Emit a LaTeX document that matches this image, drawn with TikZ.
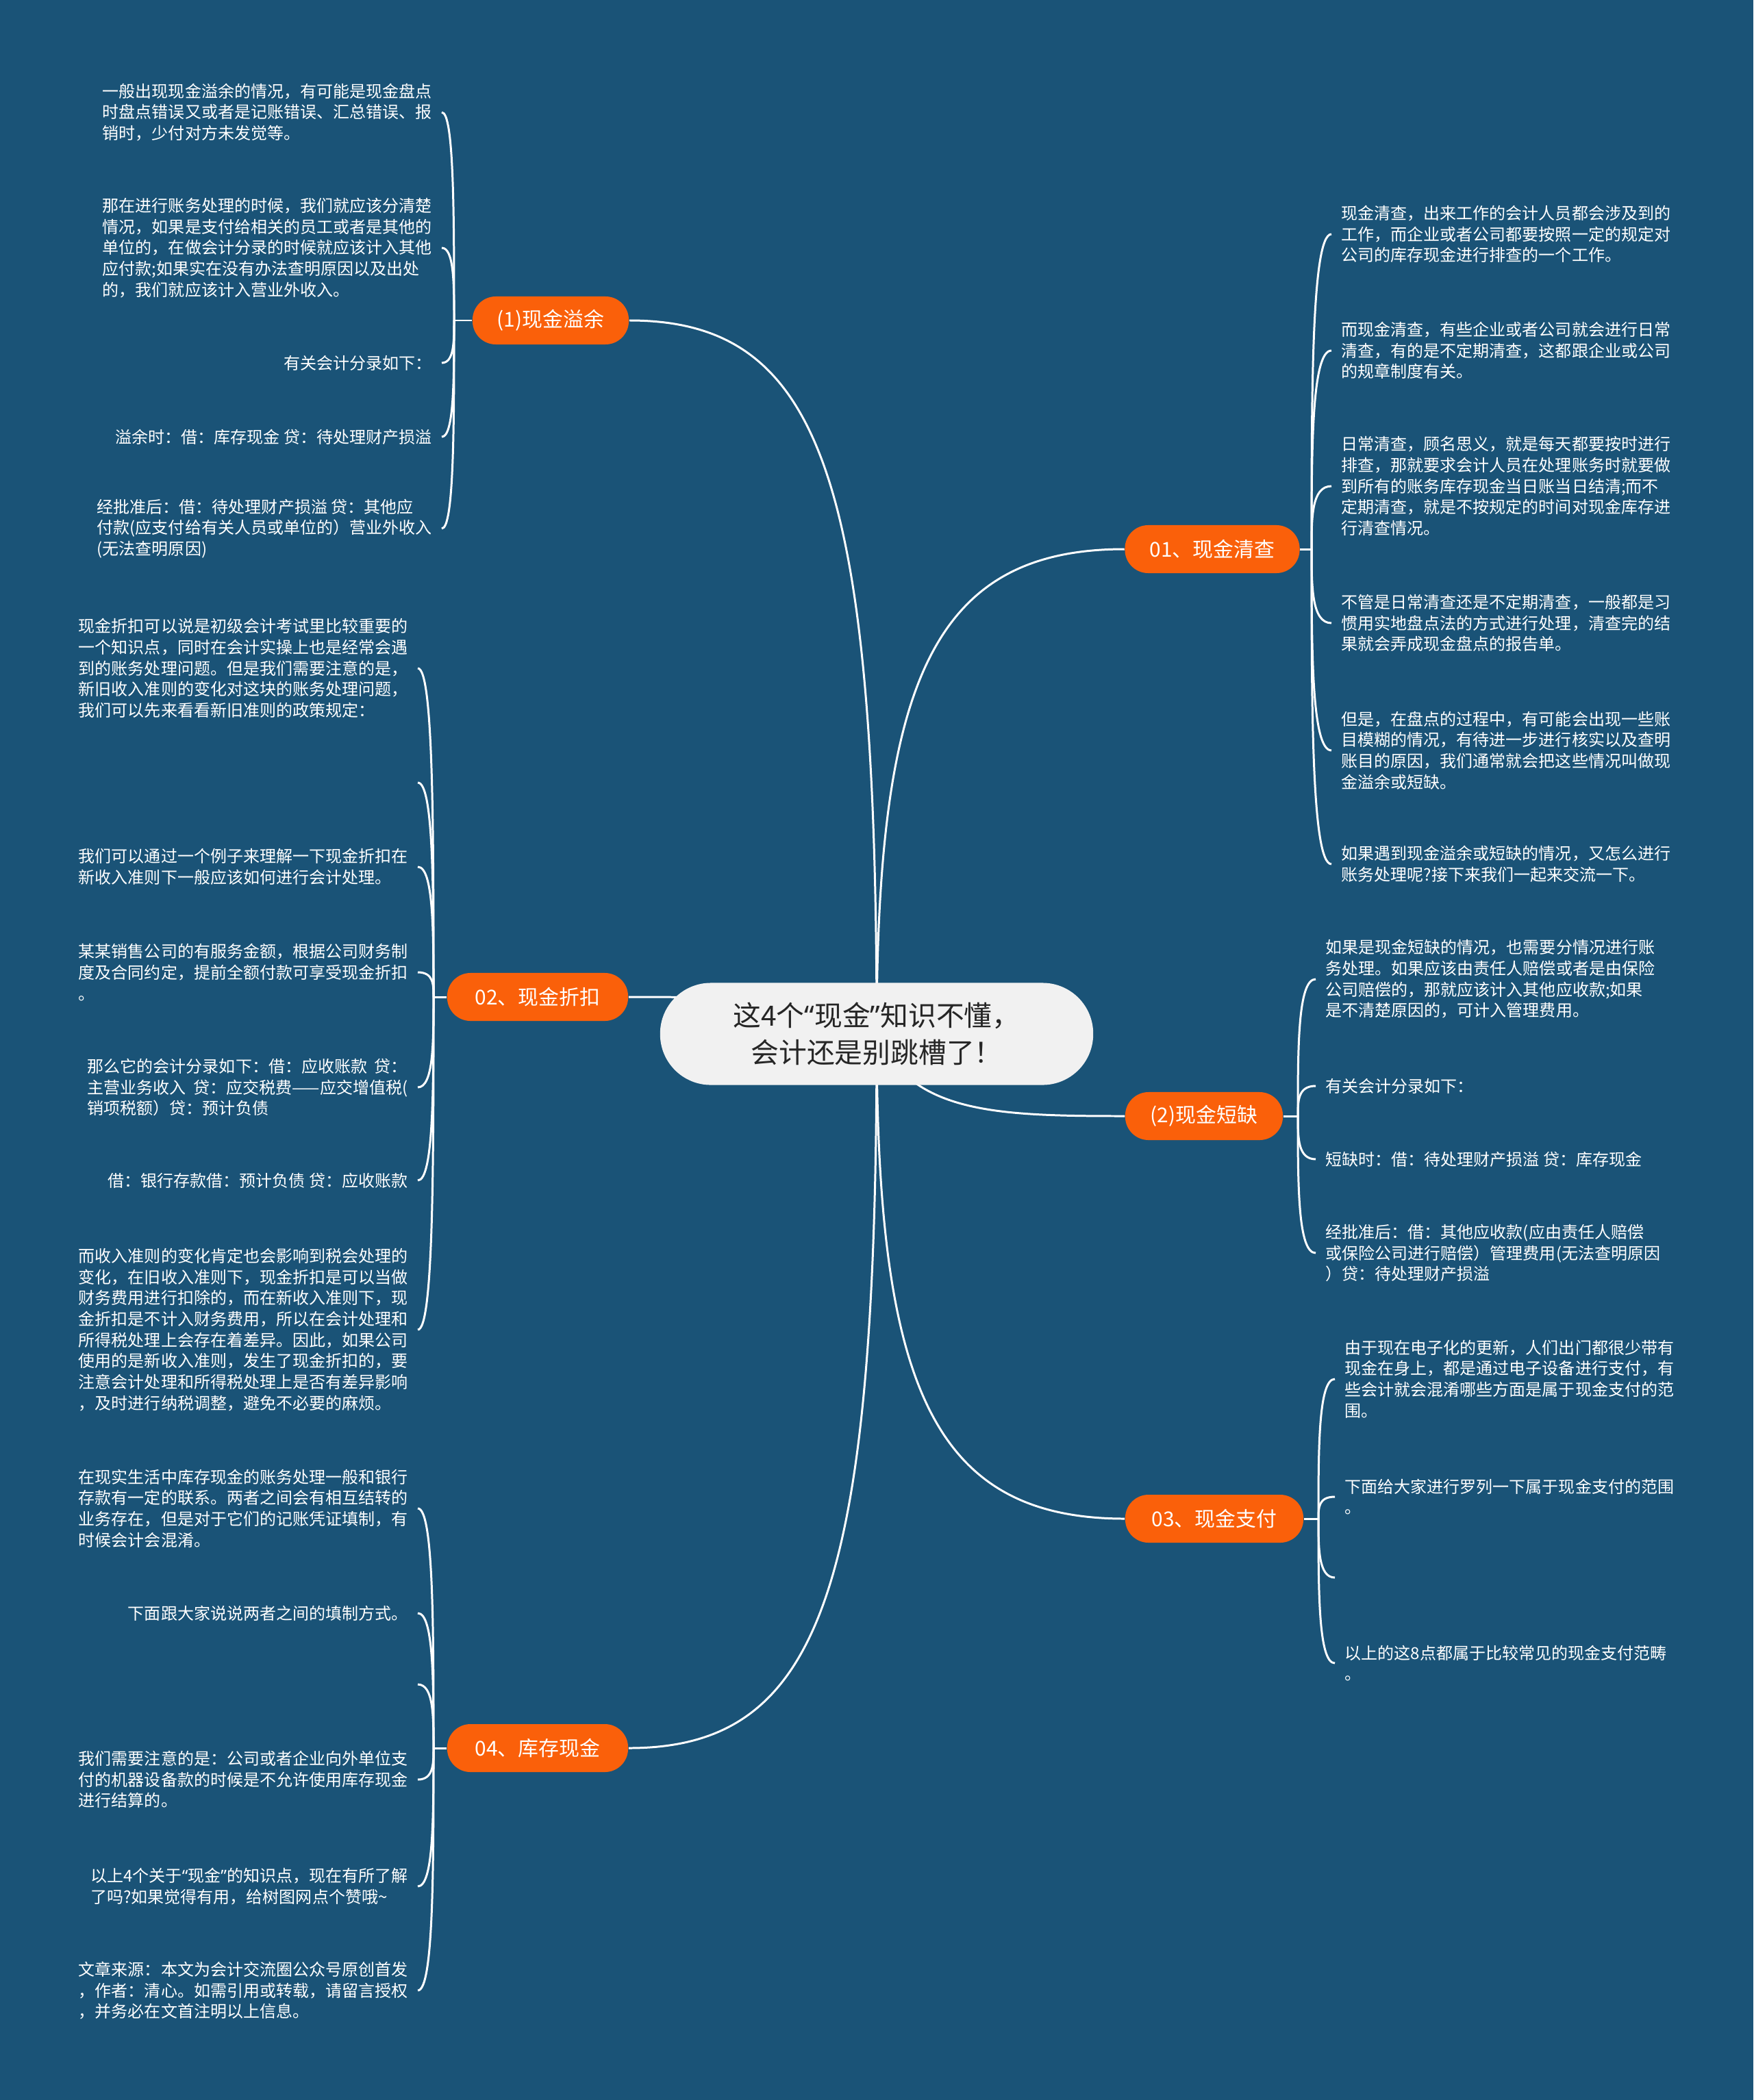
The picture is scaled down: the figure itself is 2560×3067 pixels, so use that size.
\documentclass[tikz,border=0pt]{standalone}
\usepackage{fontspec}
\setmainfont{Noto Sans CJK SC}
\newfontfamily\latinq{Noto Sans}
\newcommand{\qopen}{{\latinq “}}
\newcommand{\qclose}{{\latinq ”}}
\usetikzlibrary{calc}
\pgfdeclarelayer{bglayer}
\pgfdeclarelayer{linelayer}
\pgfsetlayers{bglayer,linelayer,main}
\definecolor{bgblue}{RGB}{26,83,119}
\definecolor{orangefill}{RGB}{250,96,10}
\definecolor{ctrfill}{RGB}{241,241,241}
\definecolor{ctrtext}{RGB}{38,38,38}
\begin{document}
\begin{tikzpicture}[x=0.01cm,y=-0.01cm,
  link/.style={draw=white,line width=0.85pt},
  brace/.style={to path={.. controls ($(\tikztostart)!0.5!(\tikztostart |- \tikztotarget)$) and (\tikztostart |- \tikztotarget) .. (\tikztotarget)}},
  leaftext/.style={text=white,align=left,inner xsep=0.14cm,inner ysep=0pt,font=\fontsize{6.83pt}{8.73pt}\selectfont},
  leafR/.style={leaftext,anchor=west},
  leafL/.style={leaftext,anchor=east},
  branch/.style={fill=orangefill,text=white,rounded corners=0.34cm,minimum height=0.70cm,inner sep=0pt,font=\fontsize{8.5pt}{10pt}\selectfont},
  ctrbox/.style={fill=ctrfill,text=ctrtext,align=center,rounded corners=0.74cm,minimum width=6.32cm,minimum height=1.49cm,inner sep=0pt,font=\fontsize{11.6pt}{15.4pt}\selectfont}
]
\begin{pgfonlayer}{bglayer}
\fill[bgblue] (0,0) rectangle (2560,3067);
\end{pgfonlayer}
\useasboundingbox (0,0) rectangle (2560,3067);

% centre
\node[ctrbox] (ctr) at (1280,1510) {这4个\qopen 现金\qclose 知识不懂，\\会计还是别跳槽了！};

% branches
\node[branch,minimum width=2.28cm] (yy) at (804,468) {(1)现金溢余};
\node[branch,minimum width=2.64cm] (zk) at (785,1456) {02、现金折扣};
\node[branch,minimum width=2.64cm] (kc) at (785,2553) {04、库存现金};
\node[branch,minimum width=2.55cm] (qc) at (1770,802) {01、现金清查};
\node[branch,minimum width=2.30cm] (dq) at (1758,1630) {(2)现金短缺};
\node[branch,minimum width=2.60cm] (zf) at (1773,2218) {03、现金支付};

% trunk points
\coordinate (tyy) at (663,468);
\coordinate (tzk) at (633,1456);
\coordinate (tkc) at (633,2553);
\coordinate (tqc) at (1915,802);
\coordinate (tdq) at (1895,1630);
\coordinate (tzf) at (1925,2218);

% (1) 现金溢余 leaves
\node[leafL] (a1) at (645,164) {一般出现现金溢余的情况，有可能是现金盘点\\时盘点错误又或者是记账错误、汇总错误、报\\销时，少付对方未发觉等。};
\node[leafL] (a2) at (645,362) {那在进行账务处理的时候，我们就应该分清楚\\情况，如果是支付给相关的员工或者是其他的\\单位的，在做会计分录的时候就应该计入其他\\应付款;如果实在没有办法查明原因以及出处\\的，我们就应该计入营业外收入。};
\node[leafL] (a3) at (645,530) {有关会计分录如下：};
\node[leafL] (a4) at (645,638) {溢余时：借：库存现金 贷：待处理财产损溢};
\node[leafL] (a5) at (645,772) {经批准后：借：待处理财产损溢 贷：其他应\\付款(应支付给有关人员或单位的）营业外收入\\(无法查明原因)};

% 02 现金折扣 leaves
\node[leafL] (b1) at (610,976) {现金折扣可以说是初级会计考试里比较重要的\\一个知识点，同时在会计实操上也是经常会遇\\到的账务处理问题。但是我们需要注意的是，\\新旧收入准则的变化对这块的账务处理问题，\\我们可以先来看看新旧准则的政策规定：};
\coordinate (b2) at (610,1143);
\node[leafL] (b3) at (610,1266) {我们可以通过一个例子来理解一下现金折扣在\\新收入准则下一般应该如何进行会计处理。};
\node[leafL] (b4) at (610,1420) {某某销售公司的有服务金额，根据公司财务制\\度及合同约定，提前全额付款可享受现金折扣\\。};
\node[leafL] (b5) at (610,1588) {那么它的会计分录如下：借：应收账款\ \ 贷：\\主营业务收入\ \ 贷：应交税费——应交增值税(\\销项税额）贷：预计负债};
\node[leafL] (b6) at (610,1724) {借：银行存款借：预计负债 贷：应收账款};
\node[leafL] (b7) at (610,1942) {而收入准则的变化肯定也会影响到税会处理的\\变化，在旧收入准则下，现金折扣是可以当做\\财务费用进行扣除的，而在新收入准则下，现\\金折扣是不计入财务费用，所以在会计处理和\\所得税处理上会存在着差异。因此，如果公司\\使用的是新收入准则，发生了现金折扣的，要\\注意会计处理和所得税处理上是否有差异影响\\，及时进行纳税调整，避免不必要的麻烦。};

% 04 库存现金 leaves
\node[leafL] (c1) at (610,2203) {在现实生活中库存现金的账务处理一般和银行\\存款有一定的联系。两者之间会有相互结转的\\业务存在，但是对于它们的记账凭证填制，有\\时候会计会混淆。};
\node[leafL] (c2) at (610,2356) {下面跟大家说说两者之间的填制方式。};
\coordinate (c3) at (610,2460);
\node[leafL] (c4) at (610,2599) {我们需要注意的是：公司或者企业向外单位支\\付的机器设备款的时候是不允许使用库存现金\\进行结算的。};
\node[leafL] (c5) at (610,2755) {以上4个关于\qopen 现金\qclose 的知识点，现在有所了解\\了吗?如果觉得有用，给树图网点个赞哦\textasciitilde};
\node[leafL] (c6) at (610,2907) {文章来源：本文为会计交流圈公众号原创首发\\，作者：清心。如需引用或转载，请留言授权\\，并务必在文首注明以上信息。};

% 01 现金清查 leaves
\node[leafR] (d1) at (1944,342) {现金清查，出来工作的会计人员都会涉及到的\\工作，而企业或者公司都要按照一定的规定对\\公司的库存现金进行排查的一个工作。};
\node[leafR] (d2) at (1944,512) {而现金清查，有些企业或者公司就会进行日常\\清查，有的是不定期清查，这都跟企业或公司\\的规章制度有关。};
\node[leafR] (d3) at (1944,710) {日常清查，顾名思义，就是每天都要按时进行\\排查，那就要求会计人员在处理账务时就要做\\到所有的账务库存现金当日账当日结清;而不\\定期清查，就是不按规定的时间对现金库存进\\行清查情况。};
\node[leafR] (d4) at (1944,910) {不管是日常清查还是不定期清查，一般都是习\\惯用实地盘点法的方式进行处理，清查完的结\\果就会弄成现金盘点的报告单。};
\node[leafR] (d5) at (1944,1096) {但是，在盘点的过程中，有可能会出现一些账\\目模糊的情况，有待进一步进行核实以及查明\\账目的原因，我们通常就会把这些情况叫做现\\金溢余或短缺。};
\node[leafR] (d6) at (1944,1262) {如果遇到现金溢余或短缺的情况，又怎么进行\\账务处理呢?接下来我们一起来交流一下。};

% (2) 现金短缺 leaves
\node[leafR] (e1) at (1921,1430) {如果是现金短缺的情况，也需要分情况进行账\\务处理。如果应该由责任人赔偿或者是由保险\\公司赔偿的，那就应该计入其他应收款;如果\\是不清楚原因的，可计入管理费用。};
\node[leafR] (e2) at (1921,1586) {有关会计分录如下：};
\node[leafR] (e3) at (1921,1693) {短缺时：借：待处理财产损溢 贷：库存现金};
\node[leafR] (e4) at (1921,1830) {经批准后：借：其他应收款(应由责任人赔偿\\或保险公司进行赔偿）管理费用(无法查明原因\\）贷：待处理财产损溢};

% 03 现金支付 leaves
\node[leafR] (f1) at (1949,2014) {由于现在电子化的更新，人们出门都很少带有\\现金在身上，都是通过电子设备进行支付，有\\些会计就会混淆哪些方面是属于现金支付的范\\围。};
\node[leafR] (f2) at (1949,2186) {下面给大家进行罗列一下属于现金支付的范围\\。};
\coordinate (f3) at (1949,2304);
\node[leafR] (f4) at (1949,2429) {以上的这8点都属于比较常见的现金支付范畴\\。};

\begin{pgfonlayer}{linelayer}
% centre to branches
\draw[link] (ctr.center) .. controls (1280,700) and (1200,468) .. (yy.east);
\draw[link] (ctr.center) .. controls (1150,1456) and (1050,1456) .. (zk.east);
\draw[link] (ctr.center) .. controls (1280,2320) and (1200,2553) .. (kc.east);
\draw[link] (ctr.center) .. controls (1280,1000) and (1360,802) .. (qc.west);
\draw[link] (ctr.center) .. controls (1330,1625) and (1450,1630) .. (dq.west);
\draw[link] (ctr.center) .. controls (1280,2020) and (1360,2218) .. (zf.west);
% branch to trunk
\draw[link] (yy.west) -- (tyy);
\draw[link] (zk.west) -- (tzk);
\draw[link] (kc.west) -- (tkc);
\draw[link] (qc.east) -- (tqc);
\draw[link] (dq.east) -- (tdq);
\draw[link] (zf.east) -- (tzf);
% trunks to leaves
\foreach \n in {a1,a2,a3,a4,a5} \draw[link] (tyy) to[brace] (\n.east);
\foreach \n in {b1,b3,b4,b5,b6,b7} \draw[link] (tzk) to[brace] (\n.east);
\draw[link] (tzk) to[brace] (b2);
\foreach \n in {c1,c2,c4,c5,c6} \draw[link] (tkc) to[brace] (\n.east);
\draw[link] (tkc) to[brace] (c3);
\foreach \n in {d1,d2,d3,d4,d5,d6} \draw[link] (tqc) to[brace] (\n.west);
\foreach \n in {e1,e2,e3,e4} \draw[link] (tdq) to[brace] (\n.west);
\foreach \n in {f1,f2,f4} \draw[link] (tzf) to[brace] (\n.west);
\draw[link] (tzf) to[brace] (f3);
\end{pgfonlayer}
\end{tikzpicture}
\end{document}
